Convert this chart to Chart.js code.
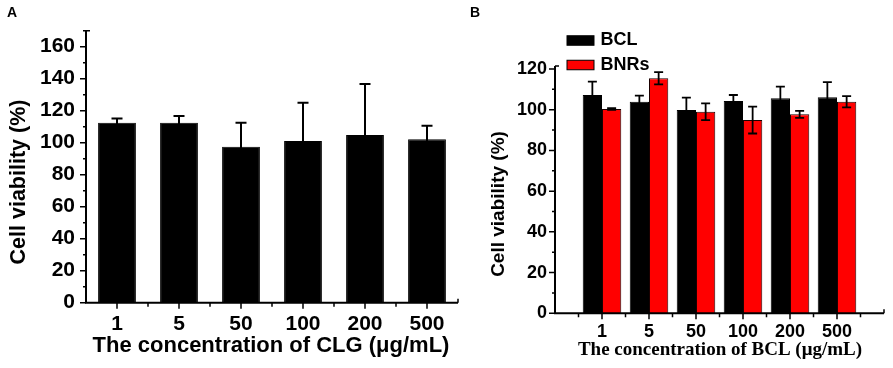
<!DOCTYPE html>
<html>
<head>
<meta charset="utf-8">
<script src="https://cdn.jsdelivr.net/npm/chart.js@4.4.1/dist/chart.umd.min.js"></script>
<style>
  html, body { margin: 0; padding: 0; background: #fff; }
  #wrap { position: relative; width: 893px; height: 368px; overflow: hidden; }
  .panel { position: absolute; top: 0; height: 368px; }
  #panel-a { left: 0; width: 460px; }
  #panel-b { left: 450px; width: 443px; }
</style>
</head>
<body>
<div id="wrap">
  <div class="panel" id="panel-a"><canvas id="chartA"></canvas></div>
  <div class="panel" id="panel-b"><canvas id="chartB"></canvas></div>
</div>
<script>
// Panel A: CLG cell viability
const clgLabels = ['1', '5', '50', '100', '200', '500'];
const clgMeans = [112.5, 112.5, 97.5, 101.1, 104.8, 102.1];
const clgErrors = [2.7, 4.2, 15.0, 23.9, 31.9, 8.5];

// Panel B: BCL vs BNRs cell viability
const bclLabels = ['1', '5', '50', '100', '200', '500'];
const bclMeans = [107.2, 103.9, 99.9, 104.3, 105.6, 106.1];
const bclErrors = [6.6, 3.0, 6.0, 2.9, 5.7, 7.4];
const bnrMeans = [100.3, 115.4, 99.0, 94.9, 97.7, 103.9];
const bnrErrors = [0.4, 3.0, 4.1, 6.6, 1.7, 2.8];

const SANS = "'Liberation Sans', Arial, sans-serif";
const SERIF = "'Liberation Serif', 'Times New Roman', serif";

Chart.defaults.font.family = SANS;
Chart.defaults.font.weight = 'bold';
Chart.defaults.color = '#000';
Chart.defaults.animation = false;

// pad the B categories with an empty slot on each side (Origin style axis)
const pad = arr => [null, ...arr, null];

// Draws error bars, Origin-like axes with ticks, titles, legend and panel letter
const decorPlugin = {
  id: 'decor',
  afterDatasetsDraw(chart, args, opts) {
    const ctx = chart.ctx;
    const y = chart.scales.y;
    ctx.save();
    ctx.strokeStyle = '#000';
    ctx.lineWidth = opts.errWidth;
    chart.data.datasets.forEach((ds, di) => {
      const meta = chart.getDatasetMeta(di);
      ds.data.forEach((v, i) => {
        if (v == null) return;
        const bx = meta.data[i].x;
        const top = y.getPixelForValue(v + ds.errors[i]);
        const bot = y.getPixelForValue(v - ds.errors[i]);
        const c = opts.capWidth / 2;
        ctx.beginPath();
        ctx.moveTo(bx, top); ctx.lineTo(bx, bot);
        ctx.moveTo(bx - c, top); ctx.lineTo(bx + c, top);
        ctx.moveTo(bx - c, bot); ctx.lineTo(bx + c, bot);
        ctx.stroke();
      });
    });
    ctx.restore();
  },
  afterDraw(chart, args, opts) {
    const ctx = chart.ctx;
    const x = chart.scales.x, y = chart.scales.y;
    const a = chart.chartArea;
    ctx.save();
    ctx.strokeStyle = '#000';
    ctx.fillStyle = '#000';

    // axis lines
    ctx.lineWidth = 2;
    ctx.beginPath();
    ctx.moveTo(a.left, a.top); ctx.lineTo(a.left, a.bottom); ctx.lineTo(a.right, a.bottom);
    ctx.stroke();

    // end caps
    ctx.lineWidth = 1.5;
    ctx.beginPath();
    ctx.moveTo(a.left, a.top); ctx.lineTo(a.left + 4, a.top);
    ctx.moveTo(a.right, a.bottom); ctx.lineTo(a.right, a.bottom - 4);
    ctx.stroke();

    // y ticks (major every 20, minor every 10)
    ctx.beginPath();
    for (let v = 0; v <= opts.yTickMax; v += 10) {
      const py = y.getPixelForValue(v);
      const len = v % 20 === 0 ? 6 : 3;
      ctx.moveTo(a.left, py); ctx.lineTo(a.left - len, py);
    }
    // x ticks
    opts.xMajor.forEach(p => {
      const px = x.getPixelForValue(p);
      ctx.moveTo(px, a.bottom); ctx.lineTo(px, a.bottom + 6);
    });
    opts.xMinor.forEach(p => {
      const px = x.getPixelForValue(p);
      ctx.moveTo(px, a.bottom); ctx.lineTo(px, a.bottom + 4);
    });
    ctx.stroke();

    // axis titles
    ctx.textAlign = 'center';
    ctx.textBaseline = 'middle';
    ctx.font = opts.xTitle.font;
    ctx.fillText(opts.xTitle.text, opts.xTitle.x, opts.xTitle.y);
    ctx.save();
    ctx.translate(opts.yTitle.x, opts.yTitle.y);
    ctx.rotate(-Math.PI / 2);
    ctx.font = opts.yTitle.font;
    ctx.fillText(opts.yTitle.text, 0, 0);
    ctx.restore();

    // panel letter
    ctx.textAlign = 'left';
    ctx.font = 'bold 14px ' + SANS;
    ctx.fillText(opts.letter.text, opts.letter.x, opts.letter.y);

    // legend
    if (opts.legend) {
      const lg = opts.legend;
      ctx.font = lg.font;
      chart.data.datasets.forEach((ds, i) => {
        const cy = lg.y + i * lg.rowGap;
        ctx.fillStyle = ds.backgroundColor;
        ctx.fillRect(lg.x, cy - lg.boxH / 2, lg.boxW, lg.boxH);
        ctx.lineWidth = 1;
        ctx.strokeStyle = '#000';
        ctx.strokeRect(lg.x, cy - lg.boxH / 2, lg.boxW, lg.boxH);
        ctx.fillStyle = '#000';
        ctx.fillText(ds.label, lg.x + lg.boxW + lg.textGap, cy);
      });
    }
    ctx.restore();
  }
};

function yTickLabel(limit) {
  return v => (v % 20 === 0 && v <= limit) ? v : '';
}

// Panel A chart
new Chart(document.getElementById('chartA'), {
  type: 'bar',
  data: {
    labels: clgLabels,
    datasets: [{
      label: 'CLG',
      data: clgMeans,
      errors: clgErrors,
      backgroundColor: '#000',
      borderColor: '#000',
      borderWidth: 1,
      categoryPercentage: 1,
      barPercentage: 0.61
    }]
  },
  options: {
    responsive: true,
    maintainAspectRatio: false,
    layout: { padding: { top: 30.7, right: 2, left: 0, bottom: 0 } },
    scales: {
      x: {
        offset: true,
        grid: { display: false, drawTicks: false },
        border: { display: false },
        ticks: { font: { size: 21, weight: 'bold' }, padding: 9, maxRotation: 0 },
        afterFit: s => { s.height = 368 - 302.7; }
      },
      y: {
        min: 0, max: 170,
        grid: { display: false, drawTicks: false },
        border: { display: false },
        ticks: { stepSize: 20, includeBounds: false, font: { size: 21, weight: 'bold' }, padding: 11, callback: yTickLabel(160) },
        afterFit: s => { s.width = 86; }
      }
    },
    plugins: {
      legend: { display: false },
      tooltip: { enabled: false },
      decor: {
        errWidth: 2, capWidth: 11, yTickMax: 170,
        xMajor: [0, 1, 2, 3, 4, 5],
        xMinor: [0.5, 1.5, 2.5, 3.5, 4.5],
        xTitle: { text: 'The concentration of CLG (\u03bcg/mL)', font: 'bold 22px ' + SANS, x: 271, y: 346 },
        yTitle: { text: 'Cell viability (%)', font: 'bold 21.5px ' + SANS, x: 19, y: 182 },
        letter: { text: 'A', x: 7, y: 13 }
      }
    }
  },
  plugins: [decorPlugin]
});

// Panel B chart
new Chart(document.getElementById('chartB'), {
  type: 'bar',
  data: {
    labels: ['', ...bclLabels, ''],
    datasets: [{
      label: 'BCL',
      data: pad(bclMeans),
      errors: pad(bclErrors),
      backgroundColor: '#000',
      borderColor: '#000',
      borderWidth: 1,
      categoryPercentage: 0.82,
      barPercentage: 1
    }, {
      label: 'BNRs',
      data: pad(bnrMeans),
      errors: pad(bnrErrors),
      backgroundColor: '#ff0000',
      borderColor: '#1a0000',
      borderWidth: 1,
      categoryPercentage: 0.82,
      barPercentage: 1
    }]
  },
  options: {
    responsive: true,
    maintainAspectRatio: false,
    layout: { padding: { top: 65.9, right: 9, left: 0, bottom: 0 } },
    scales: {
      x: {
        offset: false,
        grid: { display: false, drawTicks: false },
        border: { display: false },
        ticks: { font: { size: 18, weight: 'bold' }, padding: 8, maxRotation: 0, autoSkip: false },
        afterFit: s => { s.height = 368 - 313.3; }
      },
      y: {
        min: 0, max: 121.5,
        grid: { display: false, drawTicks: false },
        border: { display: false },
        ticks: { stepSize: 20, includeBounds: false, font: { size: 18, weight: 'bold' }, padding: 8, callback: yTickLabel(120) },
        afterFit: s => { s.width = 105; }
      }
    },
    plugins: {
      legend: { display: false },
      tooltip: { enabled: false },
      decor: {
        errWidth: 1.8, capWidth: 9, yTickMax: 120,
        xMajor: [1, 2, 3, 4, 5, 6],
        xMinor: [0.5, 1.5, 2.5, 3.5, 4.5, 5.5, 6.5],
        xTitle: { text: 'The concentration of BCL (\u03bcg/mL)', font: 'bold 19px ' + SERIF, x: 270, y: 350.5 },
        yTitle: { text: 'Cell viability (%)', font: 'bold 19px ' + SANS, x: 49, y: 204 },
        letter: { text: 'B', x: 20, y: 13 },
        legend: { x: 117, y: 40.5, rowGap: 24.5, boxW: 27, boxH: 9.5, textGap: 6.5, font: 'bold 18px ' + SANS }
      }
    }
  },
  plugins: [decorPlugin]
});
</script>
</body>
</html>
